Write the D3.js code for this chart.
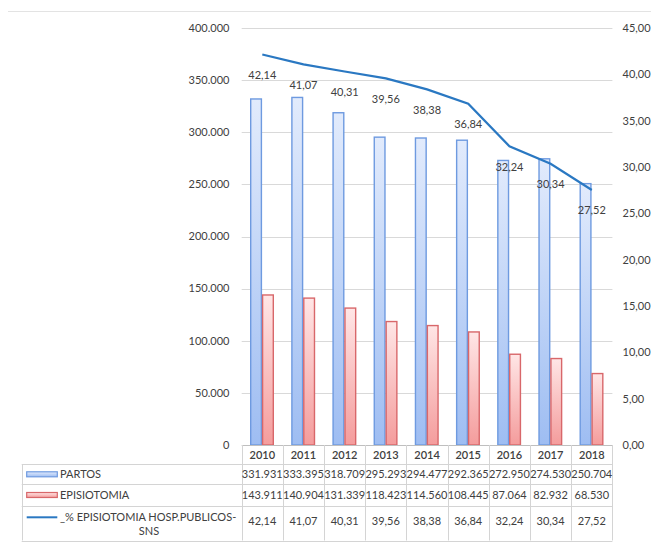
<!DOCTYPE html>
<html>
<head>
<meta charset="utf-8">
<script src="https://cdn.jsdelivr.net/npm/d3@7"></script>
<style>
  body { margin: 0; background: #fff; }
  svg { display: block; font-family: Lato, "Open Sans", sans-serif; }
  .tick-label { font-size: 11px; fill: #404040; }
  .cell-text { font-size: 11px; fill: #404040; }
</style>
</head>
<body>
<svg id="chart" width="651" height="542"></svg>
<script>
const years = ["2010", "2011", "2012", "2013", "2014", "2015", "2016", "2017", "2018"];
const partos = [331931, 333395, 318709, 295293, 294477, 292365, 272950, 274530, 250704];
const episiotomia = [143911, 140904, 131339, 118423, 114560, 108445, 87064, 82932, 68530];
const pctEpisiotomia = [42.14, 41.07, 40.31, 39.56, 38.38, 36.84, 32.24, 30.34, 27.52];
const leftTicks = [0, 50000, 100000, 150000, 200000, 250000, 300000, 350000, 400000];
const rightTicks = [0, 5, 10, 15, 20, 25, 30, 35, 40, 45];
const seriesNames = ["PARTOS", "EPISIOTOMIA", "_% EPISIOTOMIA HOSP.PUBLICOS-SNS"];

const plot = { left: 241.7, right: 612.4, top: 28, bottom: 445 };
const table = { left: 21.7, headerBottom: 464.3, rows: [464.3, 484.3, 505.7, 540.5] };

const svg = d3.select("#chart");
const defs = svg.append("defs");

function addGradient(id, top, bottom) {
  const g = defs.append("linearGradient")
    .attr("id", id)
    .attr("x1", 0).attr("y1", 0).attr("x2", 0).attr("y2", 1);
  g.append("stop").attr("offset", "0%").attr("stop-color", top);
  g.append("stop").attr("offset", "100%").attr("stop-color", bottom);
}
addGradient("grad-blue", "#e2ebfc", "#9ebdf2");
addGradient("grad-red", "#ffe6e6", "#f49c9c");

const barStyle = {
  PARTOS: { fill: "url(#grad-blue)", stroke: "#6e9ae0" },
  EPISIOTOMIA: { fill: "url(#grad-red)", stroke: "#d8676a" }
};
const lineColor = "#2a78c2";

const fmtThousands = (v) => v === 0 ? "0" : d3.format(",")(v).replace(/,/g, ".");
const fmtDecimal = (v) => v.toFixed(2).replace(".", ",");

const x0 = d3.scaleBand().domain(years).range([plot.left, plot.right]);
const x1 = d3.scaleBand().domain(["PARTOS", "EPISIOTOMIA"]).range([9, 31.6]).paddingInner(0.1);
const yLeft = d3.scaleLinear().domain([0, 400000]).range([plot.bottom, plot.top]);
const yRight = d3.scaleLinear().domain([0, 45]).range([plot.bottom, plot.top]);
const cx = (yr) => x0(yr) + x0.bandwidth() / 2;

// top border line
svg.append("line")
  .attr("x1", 8).attr("x2", 651).attr("y1", 11.5).attr("y2", 11.5)
  .attr("stroke", "#e3e3e3").attr("stroke-width", 1);

// gridlines
svg.append("g")
  .selectAll("line")
  .data(leftTicks.filter((t) => t > 0))
  .join("line")
  .attr("x1", plot.left).attr("x2", plot.right)
  .attr("y1", (d) => Math.round(yLeft(d)) + 0.5)
  .attr("y2", (d) => Math.round(yLeft(d)) + 0.5)
  .attr("stroke", "#d9d9d9");

// left axis labels
svg.append("g")
  .selectAll("text")
  .data(leftTicks)
  .join("text")
  .attr("class", "tick-label")
  .attr("x", 229.5)
  .attr("y", (d) => yLeft(d))
  .attr("dy", "0.35em")
  .attr("text-anchor", "end")
  .text(fmtThousands);

// right axis labels
svg.append("g")
  .selectAll("text")
  .data(rightTicks)
  .join("text")
  .attr("class", "tick-label")
  .attr("x", 622.5)
  .attr("y", (d) => yRight(d))
  .attr("dy", "0.35em")
  .text(fmtDecimal);

// bars
const barData = [];
years.forEach((yr, i) => {
  barData.push({ yr, key: "PARTOS", v: partos[i] });
  barData.push({ yr, key: "EPISIOTOMIA", v: episiotomia[i] });
});

svg.append("g")
  .selectAll("rect")
  .data(barData)
  .join("rect")
  .attr("x", (d) => x0(d.yr) + x1(d.key))
  .attr("width", x1.bandwidth())
  .attr("y", (d) => yLeft(d.v))
  .attr("height", (d) => yLeft(0) - yLeft(d.v))
  .attr("fill", (d) => barStyle[d.key].fill)
  .attr("stroke", (d) => barStyle[d.key].stroke)
  .attr("stroke-width", 1.4);

// line
const line = d3.line()
  .x((d, i) => cx(years[i]))
  .y((d) => yRight(d));

svg.append("path")
  .datum(pctEpisiotomia)
  .attr("d", line)
  .attr("fill", "none")
  .attr("stroke", lineColor)
  .attr("stroke-width", 2.2);

svg.append("g")
  .selectAll("text")
  .data(pctEpisiotomia)
  .join("text")
  .attr("class", "tick-label")
  .attr("x", (d, i) => cx(years[i]))
  .attr("y", (d) => yRight(d) + 20.5)
  .attr("dy", "0.35em")
  .attr("text-anchor", "middle")
  .text(fmtDecimal);

// data table
const grid = svg.append("g").attr("stroke", "#d4d4d4").attr("stroke-width", 1);
const colEdges = years.map((yr) => x0(yr)).concat([plot.right]);

// x axis line
grid.append("line")
  .attr("x1", plot.left).attr("x2", plot.right)
  .attr("y1", plot.bottom + 0.5).attr("y2", plot.bottom + 0.5)
  .attr("stroke", "#bfbfbf");

grid.selectAll(".vcol")
  .data(colEdges)
  .join("line")
  .attr("class", "vcol")
  .attr("x1", (d) => Math.round(d) + 0.5).attr("x2", (d) => Math.round(d) + 0.5)
  .attr("y1", plot.bottom).attr("y2", table.rows[3]);

grid.selectAll(".hrow")
  .data(table.rows)
  .join("line")
  .attr("class", "hrow")
  .attr("x1", table.left).attr("x2", plot.right)
  .attr("y1", (d) => Math.round(d) + 0.5).attr("y2", (d) => Math.round(d) + 0.5);

grid.append("line")
  .attr("x1", Math.round(table.left) + 0.5).attr("x2", Math.round(table.left) + 0.5)
  .attr("y1", table.rows[0]).attr("y2", table.rows[3]);

// header years
svg.append("g")
  .selectAll("text")
  .data(years)
  .join("text")
  .attr("class", "cell-text")
  .attr("x", (d) => cx(d))
  .attr("y", (plot.bottom + table.headerBottom) / 2 + 0.5)
  .attr("dy", "0.35em")
  .attr("text-anchor", "middle")
  .style("font-weight", 600)
  .text((d) => d);

const rowMid = (r) => (table.rows[r] + table.rows[r + 1]) / 2;
const tableRows = [
  { values: partos.map(fmtThousands), y: rowMid(0) },
  { values: episiotomia.map(fmtThousands), y: rowMid(1) },
  { values: pctEpisiotomia.map(fmtDecimal), y: rowMid(2) - 1.5 }
];

tableRows.forEach((row) => {
  svg.append("g")
    .selectAll("text")
    .data(row.values)
    .join("text")
    .attr("class", "cell-text")
    .attr("x", (d, i) => cx(years[i]))
    .attr("y", row.y)
    .attr("dy", "0.35em")
    .attr("text-anchor", "middle")
    .text((d) => d);
});

// legend keys in the table
const keyX = 26.7, keyW = 30.6;
["PARTOS", "EPISIOTOMIA"].forEach((k, r) => {
  const ym = rowMid(r);
  svg.append("rect")
    .attr("x", keyX).attr("y", ym - 2.5)
    .attr("width", keyW).attr("height", 5)
    .attr("fill", barStyle[k].fill)
    .attr("stroke", barStyle[k].stroke)
    .attr("stroke-width", 1.2);
  svg.append("text")
    .attr("class", "cell-text")
    .attr("x", 60)
    .attr("y", ym)
    .attr("dy", "0.35em")
    .text(seriesNames[r]);
});

svg.append("line")
  .attr("x1", keyX).attr("x2", keyX + keyW)
  .attr("y1", 517.3).attr("y2", 517.3)
  .attr("stroke", lineColor).attr("stroke-width", 2);
svg.append("text")
  .attr("class", "cell-text")
  .attr("x", 60).attr("y", 517.5)
  .attr("dy", "0.35em")
  .text("_% EPISIOTOMIA HOSP.PUBLICOS-");
svg.append("text")
  .attr("class", "cell-text")
  .attr("x", 149).attr("y", 531)
  .attr("dy", "0.35em")
  .attr("text-anchor", "middle")
  .text("SNS");
</script>
</body>
</html>
